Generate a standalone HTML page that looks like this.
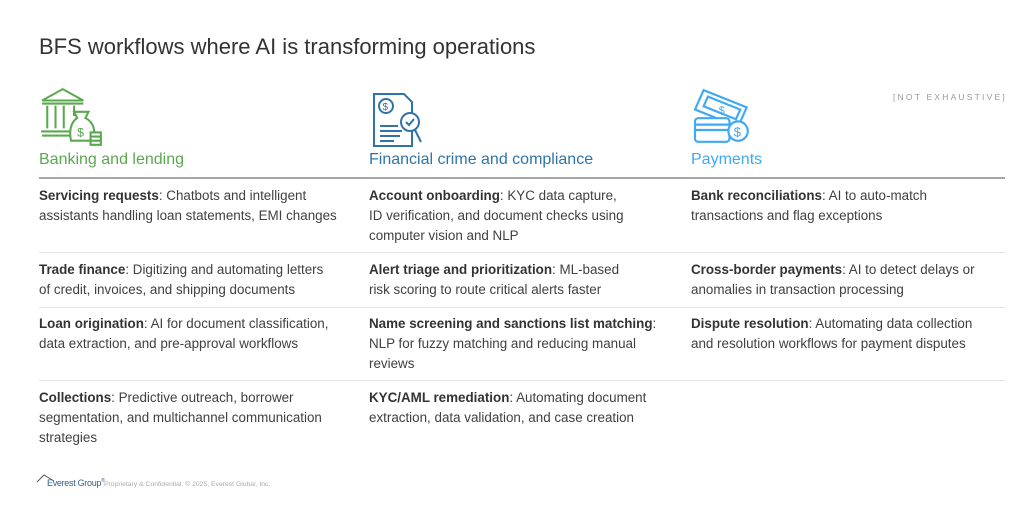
<!DOCTYPE html>
<html><head><meta charset="utf-8"><style>
body{margin:0;width:1024px;height:524px;background:#fff;font-family:"Liberation Sans",Arial,sans-serif;position:relative;overflow:hidden;color:#404040}
.a{position:absolute;white-space:nowrap}
.t{font-size:13.4px;line-height:20px}
b{color:#333}
.h{font-size:16px}
.ln{position:absolute;left:39px;width:966px;height:1px;background:#e3e3e3}
</style></head><body>
<div class="a" style="left:39px;top:34px;font-size:22px;color:#333">BFS workflows where AI is transforming operations</div>
<div class="a" style="left:893px;top:92px;font-size:8.5px;letter-spacing:2.2px;color:#999">[NOT EXHAUSTIVE]</div>

<svg class="a" style="left:39px;top:86px" width="66" height="64" viewBox="0 0 64 62" fill="none" stroke="#5aa84f" stroke-width="2">
<path d="M3 14 L23 3 L43 14 Z M3 17 H43"/><path d="M8 19v22M16 19v22M24 19v22M34 19v10"/><path d="M2 44h34M3 48h32"/>
<path d="M37 31 l-3 -6 h14 l-3 6 c8 4 10 12 8 22 h-22 c-2 -10 0 -18 6 -22z" fill="#fff"/><text x="37" y="49" font-size="12" fill="#5aa84f" stroke="none" font-family="Liberation Sans">$</text>
<path d="M50 45h10v4h-10zM50 49h10v4h-10zM50 53h10v4h-10z" fill="#fff"/></svg>
<svg class="a" style="left:369px;top:92px" width="58" height="58" viewBox="0 0 56 58" fill="none" stroke="#2f74a8" stroke-width="2">
<path d="M4 2h30l8 8v44h-38z"/><circle cx="16" cy="14" r="7"/><text x="12.5" y="18" font-size="10" fill="#2f74a8" stroke="none">$</text>
<path d="M10 34h18M10 39h22M10 44h20M10 49h14"/><circle cx="40" cy="30" r="9" fill="#fff"/><path d="M36 30l3 3 5-6M45 38l6 12"/></svg>
<svg class="a" style="left:692px;top:88px" width="62" height="56" viewBox="0 0 56 52" fill="none" stroke="#3fa9f5" stroke-width="2">
<path d="M10 2l40 16-8 18-40-16z"/><path d="M14 8l30 12-4 9-30-12z"/><text x="24" y="24" font-size="10" fill="#3fa9f5" stroke="none">$</text>
<rect x="2" y="28" width="32" height="22" rx="3" fill="#fff"/><path d="M2 34h32M2 39h32"/><circle cx="42" cy="40" r="9" fill="#fff"/><text x="38" y="45" font-size="12" fill="#3fa9f5" stroke="none">$</text></svg>

<div class="a h" style="left:39px;top:151px;color:#5aa84f">Banking and lending</div>
<div class="a h" style="left:369px;top:151px;color:#2f74a8">Financial crime and compliance</div>
<div class="a h" style="left:691px;top:151px;color:#3fa9f5">Payments</div>
<div class="a" style="left:39px;top:177px;width:966px;height:2px;background:#a6a6a6"></div>
<div class="ln" style="top:252px"></div><div class="ln" style="top:307px"></div><div class="ln" style="top:380px"></div>

<div class="a t" style="left:39px;top:186px"><b>Servicing requests</b>: Chatbots and intelligent<br>assistants handling loan statements, EMI changes</div>
<div class="a t" style="left:39px;top:260px"><b>Trade finance</b>: Digitizing and automating letters<br>of credit, invoices, and shipping documents</div>
<div class="a t" style="left:39px;top:314px"><b>Loan origination</b>: AI for document classification,<br>data extraction, and pre-approval workflows</div>
<div class="a t" style="left:39px;top:388px"><b>Collections</b>: Predictive outreach, borrower<br>segmentation, and multichannel communication<br>strategies</div>

<div class="a t" style="left:369px;top:186px"><b>Account onboarding</b>: KYC data capture,<br>ID verification, and document checks using<br>computer vision and NLP</div>
<div class="a t" style="left:369px;top:260px"><b>Alert triage and prioritization</b>: ML-based<br>risk scoring to route critical alerts faster</div>
<div class="a t" style="left:369px;top:314px"><b>Name screening and sanctions list matching</b>:<br>NLP for fuzzy matching and reducing manual<br>reviews</div>
<div class="a t" style="left:369px;top:388px"><b>KYC/AML remediation</b>: Automating document<br>extraction, data validation, and case creation</div>

<div class="a t" style="left:691px;top:186px"><b>Bank reconciliations</b>: AI to auto-match<br>transactions and flag exceptions</div>
<div class="a t" style="left:691px;top:260px"><b>Cross-border payments</b>: AI to detect delays or<br>anomalies in transaction processing</div>
<div class="a t" style="left:691px;top:314px"><b>Dispute resolution</b>: Automating data collection<br>and resolution workflows for payment disputes</div>

<svg class="a" style="left:36px;top:473px" width="20" height="10"><path d="M1 9L8 2l10 6" fill="none" stroke="#555" stroke-width="1"/></svg>
<div class="a" style="left:47px;top:478px;font-size:9px;color:#2f5f8a;letter-spacing:-0.3px">Everest Group<sup style="font-size:5px">®</sup></div>
<div class="a" style="left:104px;top:481px;font-size:6.8px;color:#aaa">Proprietary &amp; Confidential. © 2025, Everest Global, Inc.</div>
</body></html>
